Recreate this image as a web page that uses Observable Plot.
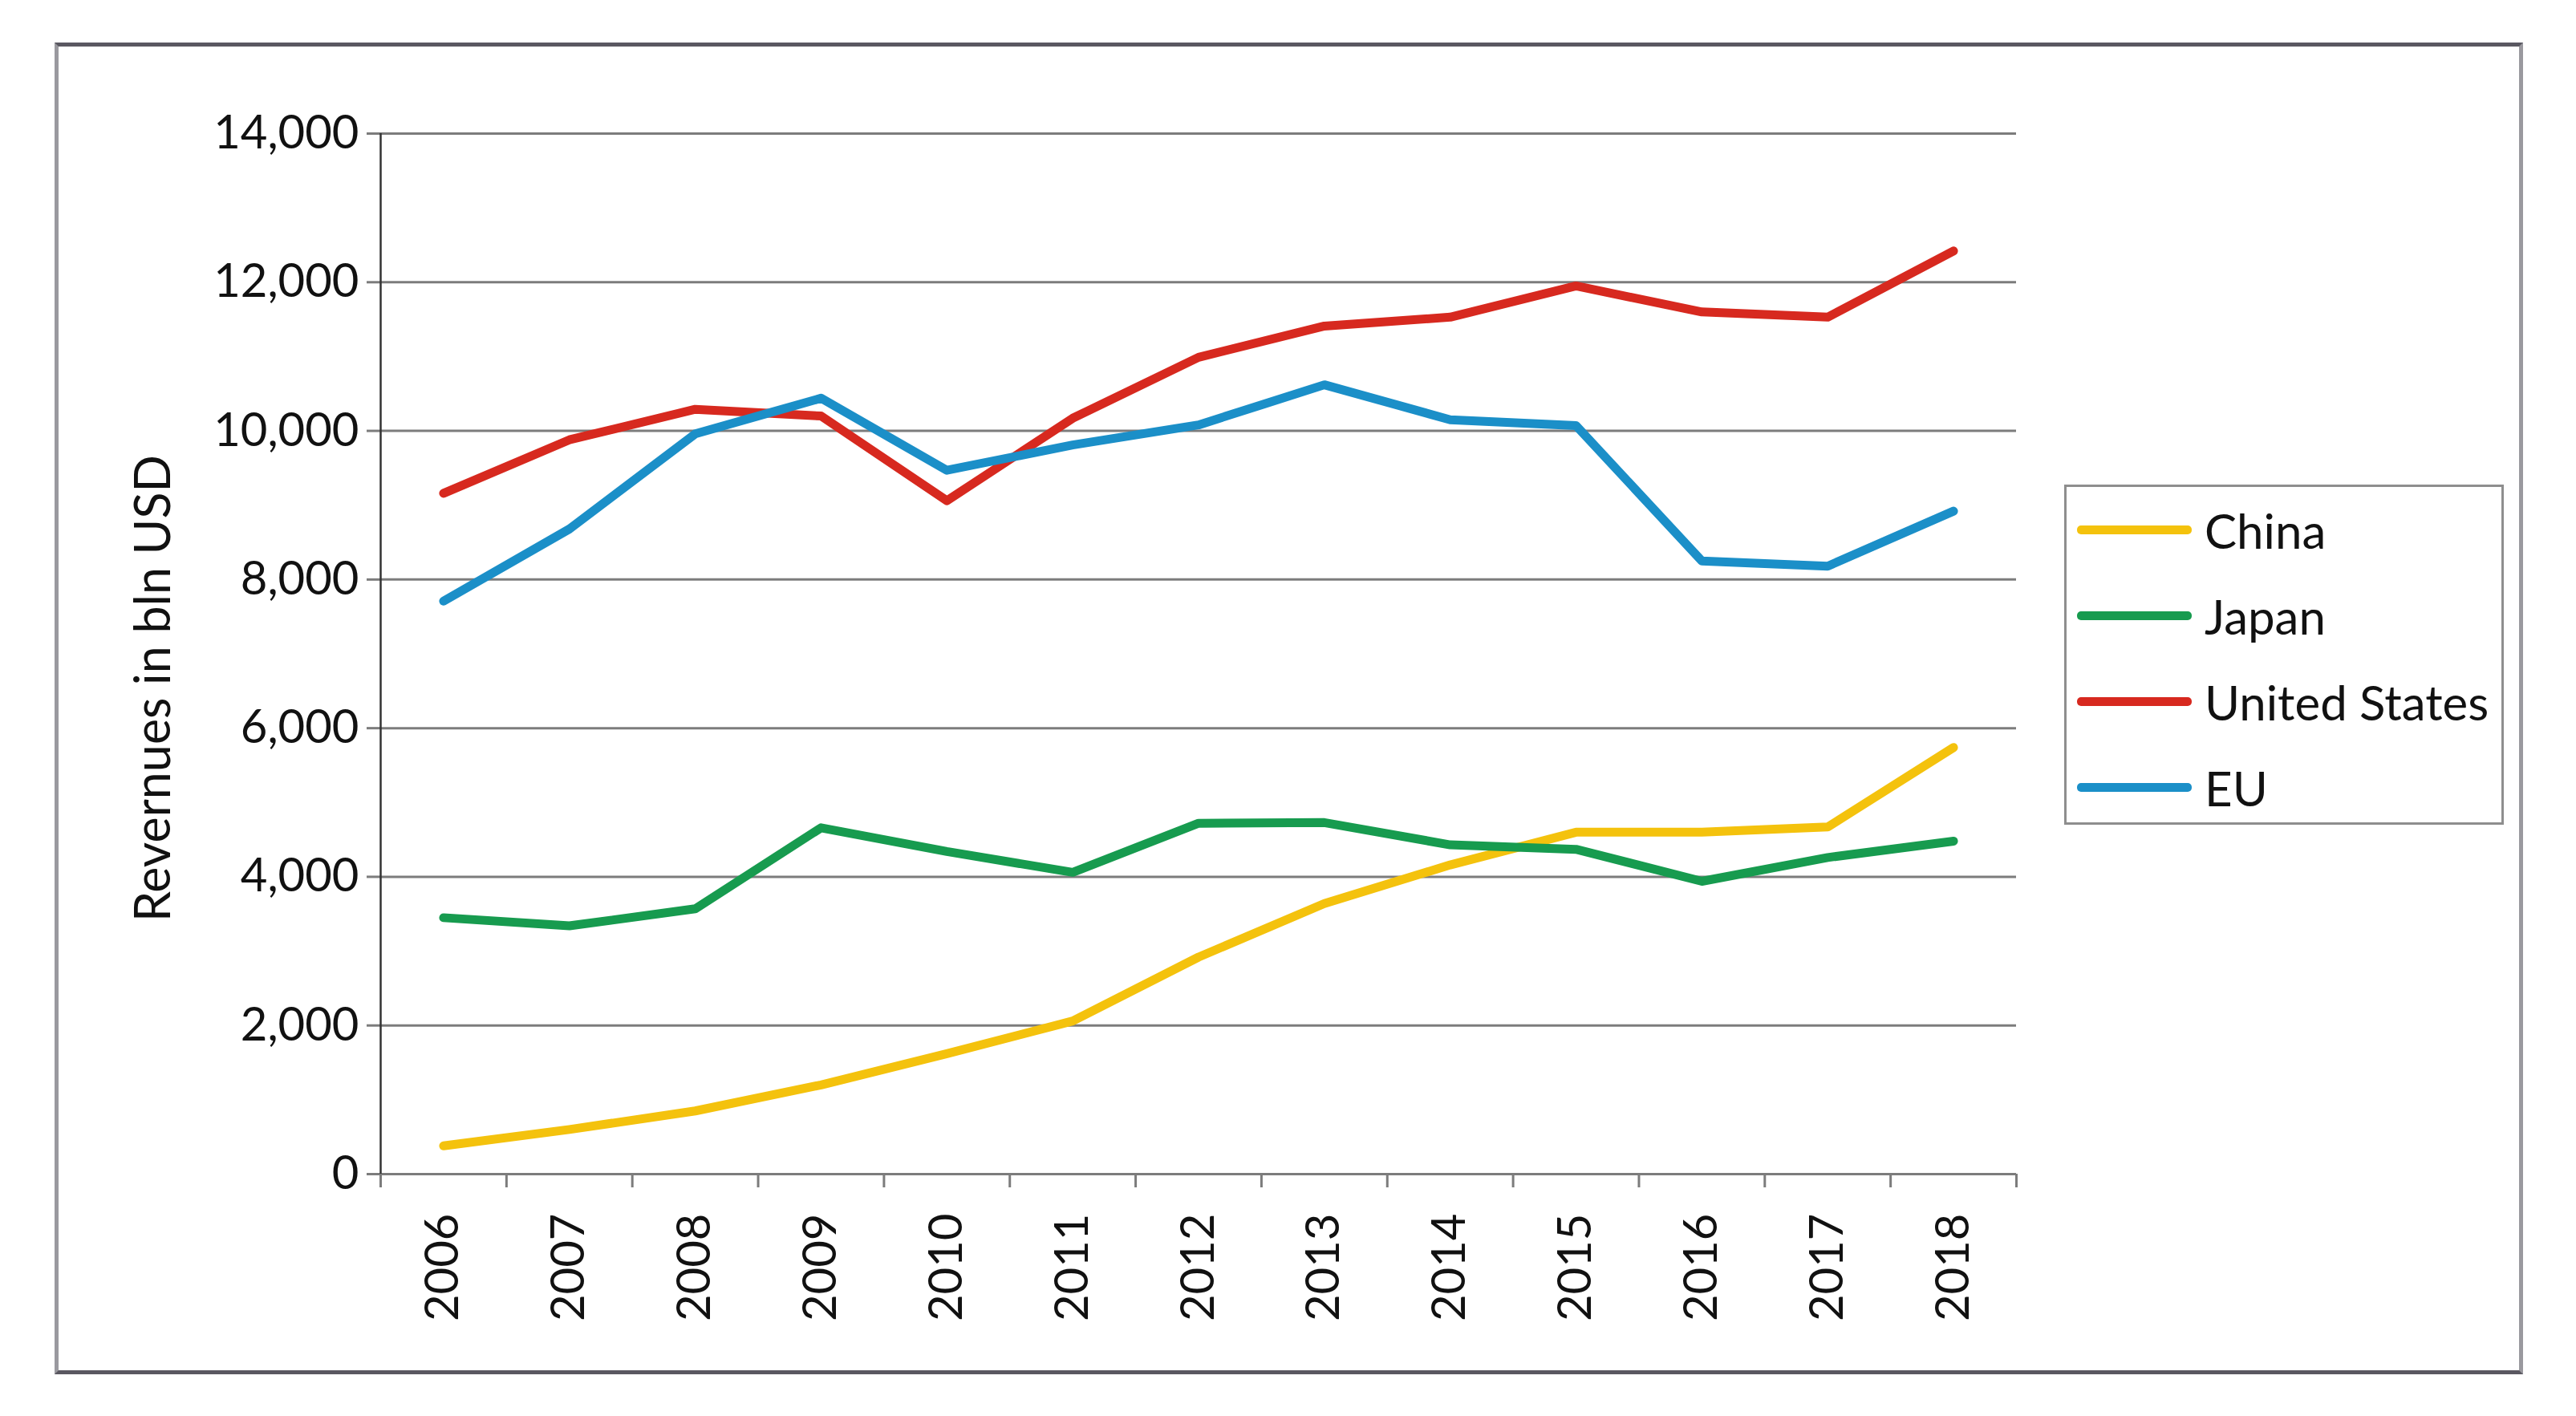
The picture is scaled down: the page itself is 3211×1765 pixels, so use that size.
<!DOCTYPE html>
<html>
<head>
<meta charset="utf-8">
<script src="https://cdn.jsdelivr.net/npm/d3@7"></script>
<script src="https://cdn.jsdelivr.net/npm/@observablehq/plot@0.6"></script>
<style>
  html, body { margin: 0; padding: 0; background: #fff; }
  #wrap { position: relative; width: 3211px; height: 1765px; overflow: hidden; font-family: Lato, "Open Sans", sans-serif; color: #111; }
  #chart { position: absolute; left: 0; top: 0; }
  #frame { position: absolute; left: 68px; top: 53px; width: 3077px; height: 1660px; box-sizing: border-box;
           border: 5px solid; border-color: #5a5861 #9a999f #5a5861 #9a999f; pointer-events: none; }
  #legend { position: absolute; left: 2573px; top: 604px; width: 548px; height: 424px; box-sizing: border-box;
            border: 3px solid #8e8e8e; background: #fff; padding-top: 0; }
  .row { height: 107px; display: flex; align-items: center; }
  .sw { display: inline-block; width: 143px; height: 11px; border-radius: 5px; margin-left: 13px; margin-right: 16px; }
  .lab { font-size: 60px; line-height: 1; color: #111; white-space: nowrap; }
</style>
</head>
<body>
<div id="wrap">
  <div id="chart"></div>
  <div id="legend"></div>
  <div id="frame"></div>
</div>
<script>
// ---- data ----
const years = [2006, 2007, 2008, 2009, 2010, 2011, 2012, 2013, 2014, 2015, 2016, 2017, 2018];
const seriesNames = ["China", "Japan", "United States", "EU"];
const china = [380, 600, 850, 1200, 1620, 2060, 2920, 3640, 4160, 4600, 4600, 4670, 5740];
const japan = [3450, 3340, 3570, 4660, 4340, 4060, 4720, 4730, 4430, 4370, 3940, 4260, 4480];
const unitedStates = [9160, 9880, 10290, 10200, 9060, 10170, 10990, 11410, 11530, 11950, 11600, 11530, 12420];
const eu = [7710, 8680, 9960, 10440, 9470, 9810, 10080, 10620, 10150, 10070, 8250, 8180, 8920];
const yTicks = [0, 2000, 4000, 6000, 8000, 10000, 12000, 14000];
const yTitle = "Revernues in bln USD";

// ---- styles ----
const seriesColors = ["#f4c20d", "#179b4f", "#d7291f", "#1b8fc8"];

const valuesBySeries = [china, japan, unitedStates, eu];
const rows = seriesNames.flatMap((name, i) =>
  years.map((year, j) => ({ name, year, value: valuesBySeries[i][j] })));
const xDomain = [years[0] - 0.5, years[years.length - 1] + 0.5];
const boundaries = [...years.map(y => y - 0.5), years[years.length - 1] + 0.5];

const gridColor = "#7c7c7c";

const chart = Plot.plot({
  width: 3211,
  height: 1765,
  marginTop: 166,
  marginBottom: 302,
  marginLeft: 474,
  marginRight: 698,
  style: { fontFamily: "Lato, 'Open Sans', sans-serif", background: "transparent", color: "#111", overflow: "visible" },
  x: { type: "linear", domain: xDomain },
  y: { domain: [0, 14000] },
  color: { domain: seriesNames, range: seriesColors },
  marks: [
    Plot.gridY(yTicks, { stroke: gridColor, strokeOpacity: 1, strokeWidth: 3 }),
    Plot.axisY(yTicks, { tickSize: 17, tickPadding: 10, tickFormat: d3.format(","), stroke: gridColor, strokeWidth: 3, fontSize: 58, label: null }),
    Plot.axisX(boundaries, { tickSize: 17, tickFormat: () => "", stroke: gridColor, strokeWidth: 3, label: null }),
    Plot.axisX(years, { tickSize: 0, tickPadding: 49, tickRotate: -90, tickFormat: d => String(d), fontSize: 58, label: null }),
    Plot.ruleX([xDomain[0]], { stroke: "#333", strokeWidth: 2.5 }),
    Plot.line(rows, { x: "year", y: "value", z: "name", stroke: "name", strokeWidth: 11 }),
    Plot.text([yTitle], { text: d => d, frameAnchor: "left", textAnchor: "middle", rotate: -90, dx: -282, dy: 43, fontSize: 61, fill: "#111" })
  ]
});
document.getElementById("chart").appendChild(chart);

// ---- legend ----
const legend = d3.select("#legend");
seriesNames.forEach((name, i) => {
  const row = legend.append("div").attr("class", "row");
  row.append("span").attr("class", "sw").style("background", seriesColors[i]);
  row.append("span").attr("class", "lab").text(name);
});
</script>
</body>
</html>
